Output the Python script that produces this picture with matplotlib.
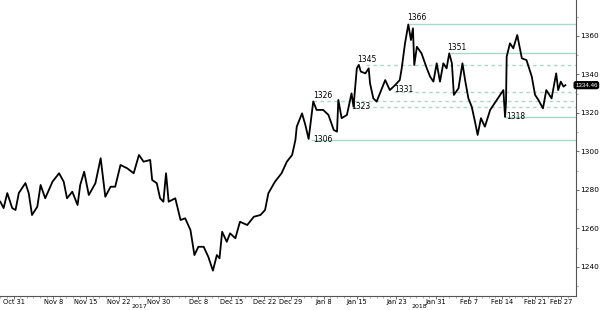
import numpy as np
import matplotlib.pyplot as plt
from matplotlib.transforms import blended_transform_factory

# trading-session index (0 = Oct 27 2017) and price
t = [0.0, 0.5, 1.05, 1.8, 2.3, 2.8, 3.8, 4.3, 4.8, 5.6, 6.1, 6.8, 7.9, 8.9, 9.6,
     10.1, 10.9, 11.7, 12.1, 12.7, 13.4, 14.4, 15.2, 15.9, 16.7, 17.4, 18.2, 19.2,
     20.2, 21.0, 21.7, 22.7, 23.0, 23.7, 24.2, 24.7, 25.1, 25.5, 26.5, 27.3, 28.0,
     28.8, 29.4, 30.0, 30.8, 31.5, 32.2, 32.8, 33.2, 33.6, 34.3, 34.8, 35.6, 36.3,
     37.4, 38.4, 39.4, 40.1, 40.6, 41.6, 42.6, 43.4, 44.2, 44.7, 44.9, 45.7, 46.2,
     46.7, 47.4, 47.9, 48.9, 49.7, 50.5, 51.0, 51.2, 51.7, 52.5, 53.2, 53.5, 54.0,
     54.3, 54.6, 55.3, 55.8, 56.0, 56.5, 57.0, 57.5, 58.3, 59.0, 59.8, 60.5, 60.8,
     61.3, 61.8, 62.2, 62.5, 62.7, 63.1, 63.8, 64.6, 65.1, 65.6, 66.1, 66.6, 67.1,
     67.6, 68.0, 68.4, 68.7, 69.4, 70.0, 70.4, 70.9, 71.4, 71.9, 72.3, 72.8, 73.4,
     74.2, 75.2, 76.2, 76.45, 76.6, 76.7, 77.2, 77.7, 78.3, 79.0, 79.7, 80.5, 81.0,
     81.5, 82.2, 82.7, 83.5, 84.2, 84.5, 84.9, 85.3, 85.6]
price = [1273.9, 1270.6, 1278.4, 1270.6, 1269.6, 1278.4, 1283.6, 1278.4, 1267.0,
         1271.3, 1282.6, 1275.7, 1284.3, 1288.7, 1284.3, 1275.7, 1279.1, 1272.2,
         1282.6, 1289.5, 1277.4, 1283.5, 1296.5, 1276.5, 1281.7, 1281.7, 1293.0,
         1291.3, 1288.7, 1298.2, 1294.7, 1295.6, 1285.2, 1283.5, 1275.7, 1273.9,
         1288.7, 1273.9, 1275.7, 1264.4, 1265.3, 1259.2, 1246.2, 1250.5, 1250.5,
         1245.3, 1238.1, 1246.2, 1244.5, 1258.3, 1253.1, 1257.5, 1254.9, 1263.5,
         1261.8, 1266.1, 1267.0, 1269.6, 1278.3, 1284.3, 1288.7, 1294.7, 1298.2,
         1306.0, 1312.9, 1319.8, 1313.8, 1306.5, 1326.0, 1321.6, 1321.6, 1319.0,
         1311.2, 1310.3, 1326.8, 1317.3, 1319.0, 1330.2, 1323.3, 1343.2, 1345.0,
         1341.5, 1340.6, 1343.2, 1335.4, 1327.6, 1325.9, 1330.2, 1337.1, 1331.9,
         1334.5, 1337.1, 1343.2, 1356.2, 1366.0, 1357.9, 1364.0, 1344.9, 1354.4,
         1351.0, 1343.2, 1338.9, 1336.3, 1345.8, 1336.3, 1345.8, 1343.2, 1351.0,
         1345.8, 1329.4, 1332.8, 1345.8, 1337.1, 1327.6, 1323.3, 1315.5, 1308.6,
         1317.3, 1312.9, 1321.6, 1326.8, 1331.9, 1318.0, 1326.0, 1349.3, 1356.2,
         1353.6, 1360.5, 1348.4, 1347.5, 1338.9, 1329.4, 1326.8, 1322.4, 1331.9,
         1327.6, 1340.6, 1331.9, 1336.3, 1333.7, 1334.46]

# support / resistance levels
levels = [1366, 1351, 1345, 1331, 1326, 1323, 1318, 1306]
level_start = [62.0, 68.2, 55.4, 59.6, 47.4, 53.2, 76.6, 47.2]
level_solid = [True, True, False, False, False, False, True, True]
level_text_pos = [(61.7, 1367.5), (67.7, 1351.6), (54.0, 1345.7), (59.6, 1330.0),
                  (47.4, 1326.6), (53.2, 1321.0), (76.6, 1316.0), (47.4, 1304.0)]

tick_pos = [2, 8, 13, 18, 24, 30, 35, 40, 44, 49, 54, 60, 66, 71, 76, 81, 85]
tick_lab = ['Oct 31', 'Nov 8', 'Nov 15', 'Nov 22', 'Nov 30', 'Dec 8', 'Dec 15',
            'Dec 22', 'Dec 29', 'Jan 8', 'Jan 15', 'Jan 23', 'Jan 31', 'Feb 7',
            'Feb 14', 'Feb 21', 'Feb 27']
years = [(21.0, '2017'), (63.5, '2018')]

fig = plt.figure(figsize=(6, 3.1), dpi=100)
ax = fig.add_axes([0, 0.045, 0.96, 0.955])
ax.set_xlim(-0.05, 87.2)
ax.set_ylim(1224.9, 1378.7)

lc = '#a6d9c6'
for v, s, solid in zip(levels, level_start, level_solid):
    ax.plot([s, 87.2], [v, v], color=lc, lw=1.0,
            ls='-' if solid else (0, (2.5, 2.5)), zorder=1)
# wick down to 1318
ax.plot([76.5, 76.5], [1318, 1326], color=lc, lw=1.0, zorder=1)

ax.plot(t, price, color='black', lw=1.3, zorder=3)

for v, (x, y) in zip(levels, level_text_pos):
    ax.text(x, y, str(v), fontsize=5.5, ha='left', va='bottom', zorder=4)

for side in ['top', 'left']:
    ax.spines[side].set_visible(False)
ax.spines['right'].set_color('#555555')
ax.spines['bottom'].set_color('#555555')
ax.yaxis.tick_right()
ax.set_yticks(np.arange(1240, 1361, 20))
ax.set_yticks(np.arange(1230, 1371, 10), minor=True)
ax.set_xticks(tick_pos)
ax.set_xticklabels(tick_lab)
ax.set_xticks(np.arange(0, 87, 1), minor=True)
ax.tick_params(axis='y', labelsize=5.3, length=2, width=0.6, color='#555555', pad=1.0)
ax.tick_params(axis='x', labelsize=4.8, length=2, width=0.6, color='#555555', pad=0.3)
ax.tick_params(axis='both', which='minor', length=1.2, width=0.5, color='#888888')

for x, s in years:
    ax.text(x, -0.036, s, transform=ax.get_xaxis_transform(), fontsize=4.5,
            ha='center', va='center')

# last price tag at the right edge
tr = blended_transform_factory(fig.transFigure, ax.transData)
ax.text(0.996, price[-1], f'{price[-1]:.2f}', transform=tr, fontsize=4.4,
        color='white', va='center', ha='right', clip_on=False,
        family=['Liberation Sans', 'DejaVu Sans'],
        bbox=dict(boxstyle='round,pad=0.15,rounding_size=0.3', fc='black', ec='black'))

fig.savefig('out.png', dpi=100)
